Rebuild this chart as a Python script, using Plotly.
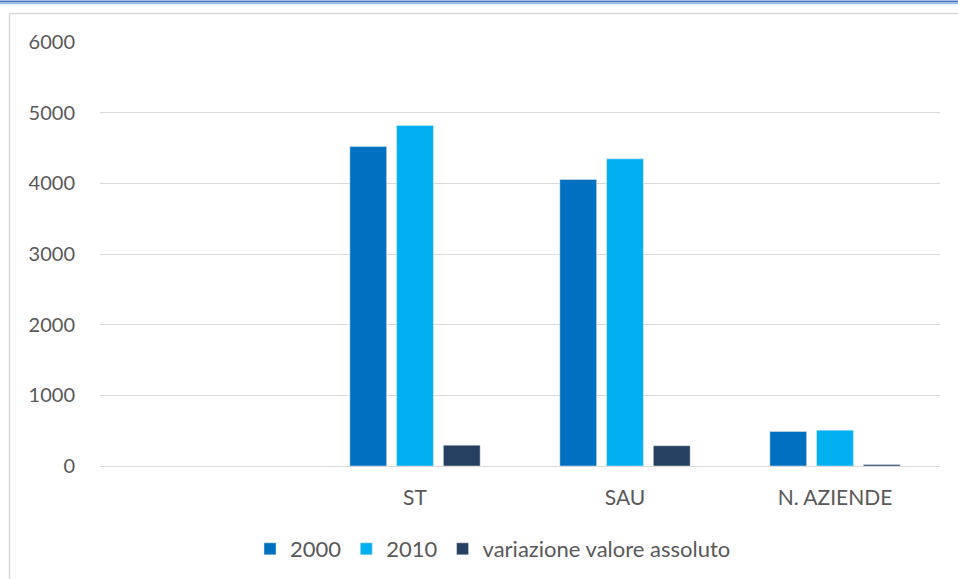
import plotly.graph_objects as go

# Data
categories = ["", "ST", "SAU", "N. AZIENDE"]
values_2000 = [None, 4520, 4055, 489]
values_2010 = [None, 4820, 4347, 507]
values_diff = [None, 295, 287, 22]
y_ticks = [0, 1000, 2000, 3000, 4000, 5000, 6000]

W, H = 958, 579
L, R, T, B = 100, 18, 42, 113
plot_w = W - L - R
plot_h = H - T - B


def px_x(px):
    return (px - L) / plot_w


def px_y(py):
    return (H - B - py) / plot_h


FONT = "Lato"
FS = 20
TXT = "#595959"
x_pos = list(range(len(categories)))

fig = go.Figure()
fig.add_trace(go.Bar(x=x_pos, y=values_2000, name="2000", marker_color="#0070C0"))
fig.add_trace(go.Bar(x=x_pos, y=values_2010, name="2010", marker_color="#00B0F0"))
fig.add_trace(go.Bar(x=x_pos, y=values_diff, name="variazione valore assoluto",
                     marker_color="#254061"))

shapes = [
    # outer chart frame
    dict(type="line", xref="paper", yref="paper", x0=px_x(9.5), x1=px_x(W + 5),
         y0=px_y(13.5), y1=px_y(13.5), line=dict(color="#d9d9d9", width=1.5)),
    dict(type="line", xref="paper", yref="paper", x0=px_x(9.5), x1=px_x(9.5),
         y0=px_y(13.5), y1=px_y(H + 5), line=dict(color="#d9d9d9", width=1.5)),
    # page header rule
    dict(type="line", xref="paper", yref="paper", x0=px_x(-5), x1=px_x(W + 5),
         y0=px_y(1.5), y1=px_y(1.5), line=dict(color="#4A78C0", width=2)),
    dict(type="line", xref="paper", yref="paper", x0=px_x(-5), x1=px_x(W + 5),
         y0=px_y(3.5), y1=px_y(3.5), line=dict(color="#9CBCE6", width=1.5)),
]

fig.update_layout(
    width=W, height=H,
    margin=dict(l=L, r=R, t=T, b=B, autoexpand=False),
    paper_bgcolor="white", plot_bgcolor="white",
    barmode="group", bargap=0.332, bargroupgap=0.213,
    font=dict(family=FONT, size=FS, color=TXT),
    showlegend=True,
    legend=dict(orientation="h", x=px_x(493), xanchor="center",
                y=px_y(549), yanchor="middle", font=dict(size=22, color=TXT),
                itemwidth=30),
    shapes=shapes,
    xaxis=dict(
        tickmode="array", tickvals=x_pos, ticktext=categories,
        range=[-0.5, len(categories) - 0.5],
        showgrid=False, zeroline=False, showline=False,
        ticks="outside", ticklen=13, tickcolor="rgba(0,0,0,0)",
        tickfont=dict(size=21, color=TXT),
    ),
    yaxis=dict(
        range=[0, 6000], tickvals=y_ticks,
        showgrid=True, gridcolor="#d9d9d9", gridwidth=1,
        zeroline=True, zerolinecolor="#d9d9d9", zerolinewidth=1,
        showline=False,
        ticks="outside", ticklen=20, tickcolor="rgba(0,0,0,0)",
        tickfont=dict(size=FS, color=TXT),
    ),
)

fig.write_html("out.html")
